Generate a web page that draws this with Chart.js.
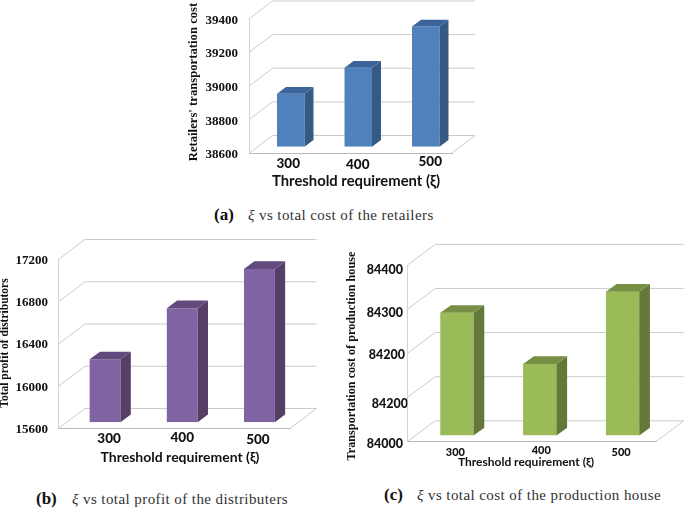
<!DOCTYPE html>
<html><head><meta charset="utf-8">
<script src="https://cdn.jsdelivr.net/npm/chart.js@4"></script>
<style>
html,body{margin:0;padding:0;background:#fff;width:685px;height:508px;overflow:hidden}
canvas{position:absolute}
.cap{position:absolute;font:15px "Liberation Serif",serif;letter-spacing:.42px;color:#333;white-space:nowrap;line-height:18px}
.cap b{position:absolute;font-size:17px;letter-spacing:0;color:#111;top:0}
.cap i{font-style:italic}
</style></head><body>
<canvas id="a"></canvas><canvas id="b"></canvas><canvas id="c"></canvas>
<div class="cap" style="left:248px;top:206px"><b style="left:-34px">(a)</b><i>ξ</i> vs total cost of the retailers</div>
<div class="cap" style="left:72px;top:490px"><b style="left:-36px">(b)</b><i>ξ</i> vs total profit of the distributers</div>
<div class="cap" style="left:417px;top:486px"><b style="left:-33px">(c)</b><i>ξ</i> vs total cost of the production house</div>
<script>
const categories = ['300', '400', '500'];
const retailerCost = [38915, 39070, 39315];
const distributorProfit = [16195, 16680, 17050];
const productionCost = [84278, 84162, 84326];
const productionTickLabels = ['84000', '84200', '84200', '84300', '84400'];
const xTitle = 'Threshold requirement (ξ)';
const titleRetailer = "Retailers' transportation cost";
const titleDistributor = 'Total profit of distributors';
const titleProduction = 'Transportation cost of production house';

const GRID = '#cbcbcb';
const lato = 'Lato, sans-serif', serif = '"Liberation Serif", serif';

function make(id, o) {
  const [L, T, W, H] = o.box, el = document.getElementById(id);
  el.style.left = L + 'px'; el.style.top = T + 'px';
  el.style.width = W + 'px'; el.style.height = H + 'px';
  el.width = W; el.height = H;
  const [aL, aT, aR, aB] = o.area;
  const walls = {
    id: 'walls',
    beforeDatasetsDraw(ch) {
      const c = ch.ctx, y = ch.scales.y, a = ch.chartArea, [dx, dy] = o.depth;
      c.save(); c.strokeStyle = GRID; c.lineWidth = 1;
      y.ticks.forEach((t, i) => {
        const p = y.getPixelForTick(i);
        c.beginPath(); c.moveTo(a.left, p); c.lineTo(a.left + dx, p + dy); c.lineTo(a.right + dx, p + dy);
        c.stroke();
      });
      c.beginPath(); c.moveTo(a.right, a.bottom); c.lineTo(a.right + dx, a.bottom + dy); c.stroke();
      c.restore();
      c.save(); c.translate(o.barShift[0], o.barShift[1]);
    },
    afterDatasetsDraw(ch) {
      const c = ch.ctx, [sx, sy] = o.side;
      ch.getDatasetMeta(0).data.forEach(b => {
        const l = b.x - b.width / 2, r = b.x + b.width / 2;
        c.fillStyle = o.colors[1];
        c.beginPath(); c.moveTo(r, b.y); c.lineTo(r + sx, b.y + sy); c.lineTo(r + sx, b.base + sy); c.lineTo(r, b.base); c.closePath(); c.fill();
        c.fillStyle = o.colors[2];
        c.beginPath(); c.moveTo(l, b.y); c.lineTo(l + sx, b.y + sy); c.lineTo(r + sx, b.y + sy); c.lineTo(r, b.y); c.closePath(); c.fill();
      });
      c.restore();
    },
    beforeDraw(ch) {
      const xs = ch.scales.x, ys = ch.scales.y;
      xs.getLabelItems().forEach((it, i) => {
        it.options.translation = [xs.getPixelForTick(i) + o.xNudge[i][0], o.xNudge[i][1] - T];
        it.options.textBaseline = 'middle'; it.textOffset = 0;
      });
      ys.getLabelItems().forEach((it, i) => {
        const n = o.yNudge[i];
        it.options.translation = [o.yRight - L + n[0], ys.getPixelForTick(i) + n[1]];
        it.options.textBaseline = 'middle'; it.options.textAlign = 'right'; it.textOffset = 0;
      });
    },
    afterDraw(ch) {
      const c = ch.ctx;
      c.save(); c.fillStyle = '#111'; c.textAlign = 'center'; c.textBaseline = 'middle';
      c.font = o.xt.font;
      c.fillText(xTitle, o.xt.x - L, o.xt.y - T);
      c.translate(o.yt.x - L, o.yt.y - T); c.rotate(-Math.PI / 2);
      c.font = o.yt.font;
      c.fillText(o.yt.text, 0, 0);
      c.restore();
    }
  };
  return new Chart(el, {
    type: 'bar',
    data: { labels: categories, datasets: [{ data: o.values, base: o.min, backgroundColor: o.colors[0], borderWidth: 0,
      barPercentage: o.barPct, categoryPercentage: 1 }] },
    plugins: [walls],
    options: {
      responsive: false, animation: false, events: [],
      layout: { autoPadding: false, padding: { left: 0, top: aT - T, right: L + W - aR, bottom: 0 } },
      plugins: { legend: { display: false }, tooltip: { enabled: false } },
      scales: {
        x: { grid: { display: false }, border: { color: '#b9b9b9' },
          ticks: { color: '#111', font: { family: lato, weight: 900, size: o.xFont }, maxRotation: 0 },
          afterFit(s) { s.height = T + H - aB; } },
        y: { min: o.min, max: o.max, grid: { display: false }, border: { color: '#d4d4d4' },
          ticks: { stepSize: o.step, color: '#111', font: o.yFont,
            callback: o.yLabels ? (v, i) => o.yLabels[i] : (v) => String(v) },
          afterFit(s) { s.width = aL - L; } }
      }
    }
  });
}

make('a', {
  box: [185, 0, 300, 195], area: [249.5, 18.5, 452, 153], depth: [23, -17.5], barShift: [7.5, -6.3], side: [9, -6.7],
  barPct: 0.407, values: retailerCost, min: 38600, max: 39400, step: 200,
  colors: ['#4f81bd', '#375a85', '#3b659a'], xFont: 13.5, yRight: 238,
  yFont: { family: serif, weight: 'bold', size: 13 },
  yNudge: [[0, 2], [0, 2], [0, 2], [0, 2], [0, 2]],
  xNudge: [[5, 164], [7, 164.5], [12, 162]],
  xt: { x: 356, y: 181, font: 'bold 14.8px ' + lato },
  yt: { x: 194, y: 82, text: titleRetailer, font: 'bold 12.7px ' + serif }
});
make('b', {
  box: [0, 232, 325, 232], area: [58.5, 259.5, 290, 428.5], depth: [26.5, -20], barShift: [8, -6.3], side: [10.3, -7.7],
  barPct: 0.40, values: distributorProfit, min: 15600, max: 17200, step: 400,
  colors: ['#8064a2', '#553f66', '#624a7e'], xFont: 13.5, yRight: 48,
  yFont: { family: serif, weight: 'bold', size: 13 },
  yNudge: [[0, 1], [0, 1], [0, 1], [0, 1], [0, 1]],
  xNudge: [[12, 439], [8, 437.5], [6.5, 439.5]],
  xt: { x: 180, y: 457, font: 'bold 14px ' + lato },
  yt: { x: 5, y: 343, text: titleDistributor, font: 'bold 11.5px ' + serif }
});
make('c', {
  box: [340, 240, 345, 230], area: [407.5, 265, 656, 441.5], depth: [27.7, -20.7], barShift: [8, -6], side: [10.7, -7.7],
  barPct: 0.402, values: productionCost, min: 84000, max: 84400, step: 100, yLabels: productionTickLabels,
  colors: ['#9bbb59', '#64783a', '#768f43'], xFont: 11, yRight: 403,
  yFont: { family: lato, weight: 900, size: 12.5 },
  xNudge: [[6.5, 452.5], [9.5, 450], [6.5, 452.5]],
  yNudge: [[0, 2], [5, 7], [2, 2], [0, 4], [0, 5]],
  xt: { x: 526, y: 462, font: 'bold 12px ' + lato },
  yt: { x: 352, y: 356, text: titleProduction, font: 'bold 12.2px ' + serif }
});
</script>
</body></html>
